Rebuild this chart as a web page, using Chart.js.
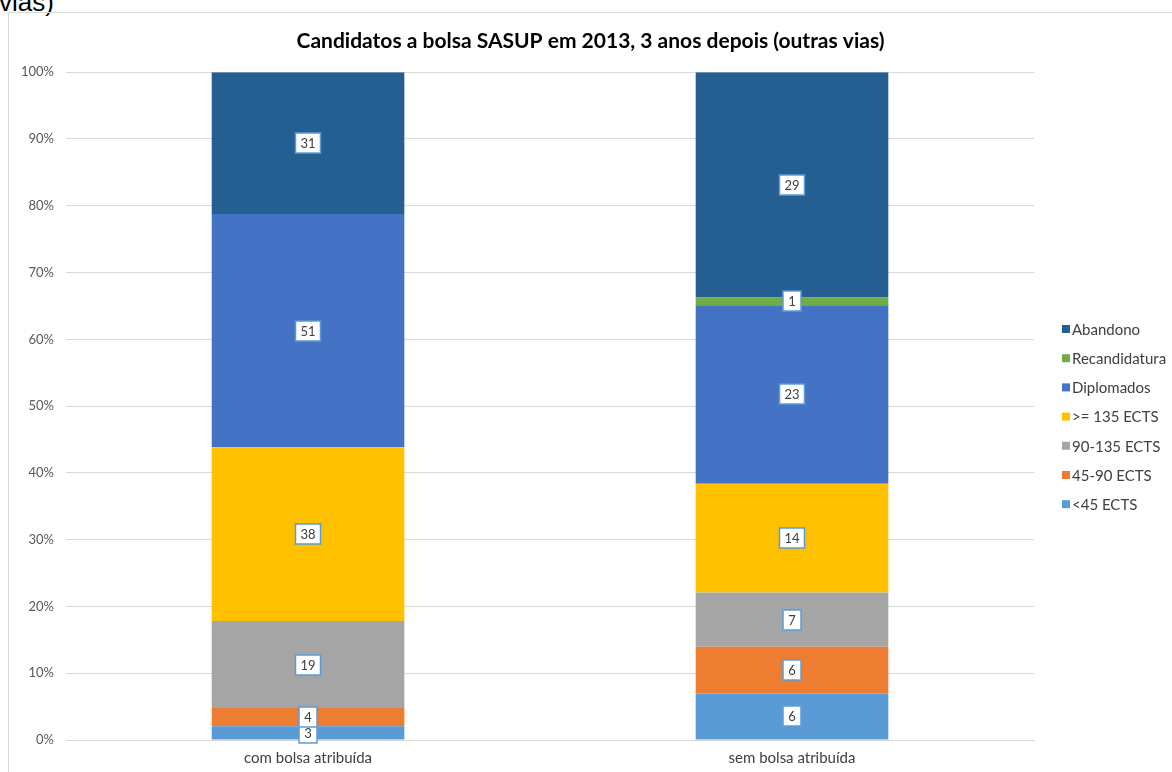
<!DOCTYPE html>
<html>
<head>
<meta charset="utf-8">
<script src="https://cdn.jsdelivr.net/npm/chart.js@4"></script>
<style>
  html, body { margin: 0; padding: 0; background: #fff; overflow: hidden; }
  body { width: 1172px; height: 772px; position: relative; }
  #above { position: absolute; left: -1px; top: -11px; font-family: "Liberation Sans", Arial, sans-serif; font-size: 26px; line-height: 26px; color: #000; white-space: nowrap; }
  #frame { position: absolute; left: 8px; top: 12px; width: 1200px; height: 800px; border: 1px solid #d9d9d9; box-sizing: border-box; }
  #wrap { position: absolute; left: 9px; top: 13px; width: 1163px; height: 769px; }
</style>
</head>
<body>
<div id="above">vias)</div>
<div id="frame"></div>
<div id="wrap"><canvas id="c"></canvas></div>
<script>
const categories = ["com bolsa atribuída", "sem bolsa atribuída"];
const seriesNames = ["<45 ECTS", "45-90 ECTS", "90-135 ECTS", ">= 135 ECTS", "Diplomados", "Recandidatura", "Abandono"];
const lt45 = [3, 6];
const ects45_90 = [4, 6];
const ects90_135 = [19, 7];
const ge135 = [38, 14];
const diplomados = [51, 23];
const recandidatura = [0, 1];
const abandono = [31, 29];
const tickLabels = ["0%", "10%", "20%", "30%", "40%", "50%", "60%", "70%", "80%", "90%", "100%"];
const colors = ["#5b9bd5", "#ed7d31", "#a5a5a5", "#ffc000", "#4472c4", "#70ad47", "#255e91"];

const counts = [lt45, ects45_90, ects90_135, ge135, diplomados, recandidatura, abandono];
const totals = categories.map((_, i) => counts.reduce((s, arr) => s + arr[i], 0));

const datasets = counts.map((arr, k) => ({
  label: seriesNames[k],
  data: arr.map((v, i) => v / totals[i] * 100),
  counts: arr,
  backgroundColor: colors[k],
  borderWidth: 0,
  barPercentage: 0.398,
  categoryPercentage: 1.0,
  yAxisID: 'y'
}));

const FONT = "Lato, 'Open Sans', sans-serif";

const labelPlugin = {
  id: 'boxLabels',
  afterDatasetsDraw(chart) {
    const ctx = chart.ctx;
    ctx.save();
    ctx.font = "13px " + FONT;
    ctx.textAlign = 'center';
    ctx.textBaseline = 'middle';
    chart.data.datasets.forEach((ds, di) => {
      const meta = chart.getDatasetMeta(di);
      meta.data.forEach((el, i) => {
        const c = ds.counts[i];
        if (!c) return;
        const cy = Math.round((el.y + el.base) / 2);
        const cx = Math.round(el.x);
        const txt = String(c);
        const w = Math.round(ctx.measureText(txt).width + 10);
        const h = 20;
        ctx.fillStyle = '#ffffff';
        ctx.fillRect(cx - w / 2, cy - h / 2, w, h);
        ctx.strokeStyle = '#5b9bd5';
        ctx.lineWidth = 1.5;
        ctx.strokeRect(cx - w / 2, cy - h / 2, w, h);
        ctx.fillStyle = '#404040';
        ctx.fillText(txt, cx, cy + 1);
      });
    });
    ctx.restore();
  }
};

// legend drawn at the right, in reverse dataset order
const legendPlugin = {
  id: 'sideLegend',
  afterDraw(chart) {
    const ctx = chart.ctx;
    const area = chart.chartArea;
    ctx.save();
    ctx.font = "15px " + FONT;
    ctx.textAlign = 'left';
    ctx.textBaseline = 'middle';
    const items = chart.data.datasets.slice().reverse();
    const x0 = area.right + 28;
    const step = 29.2;
    const y0 = 316;
    items.forEach((ds, k) => {
      const y = y0 + k * step;
      ctx.fillStyle = ds.backgroundColor;
      ctx.fillRect(x0, y - 4, 8, 8);
      ctx.fillStyle = '#404040';
      ctx.fillText(ds.label, x0 + 10, y + 1);
    });
    ctx.restore();
  }
};

new Chart(document.getElementById('c'), {
  type: 'bar',
  data: { labels: categories, datasets: datasets },
  plugins: [labelPlugin, legendPlugin],
  options: {
    responsive: true,
    maintainAspectRatio: false,
    animation: false,
    layout: { padding: { left: 0, right: 0, top: 0, bottom: 6 } },
    plugins: {
      title: {
        display: true,
        text: "Candidatos a bolsa SASUP em 2013, 3 anos depois (outras vias)",
        color: '#000',
        font: { family: FONT, size: 21, weight: 'bold' },
        padding: { top: 16, bottom: 18 }
      },
      legend: { display: false },
      tooltip: { enabled: false }
    },
    scales: {
      x: {
        stacked: true,
        grid: { display: false, drawTicks: false },
        border: { color: '#d9d9d9' },
        ticks: { color: '#404040', font: { family: FONT, size: 15 }, padding: 9 }
      },
      y: {
        stacked: true,
        min: 0,
        max: 100,
        border: { display: false },
        grid: { color: '#d9d9d9', drawTicks: false },
        ticks: {
          stepSize: 10,
          padding: 12,
          color: '#595959',
          font: { family: FONT, size: 13 },
          callback: (v) => tickLabels[Math.round(v / 10)]
        }
      },
      side: {
        position: 'right',
        display: true,
        grid: { display: false, drawTicks: false },
        border: { display: false },
        ticks: { display: false },
        afterFit(s) { s.width = 138; }
      }
    }
  }
});
</script>
</body>
</html>
